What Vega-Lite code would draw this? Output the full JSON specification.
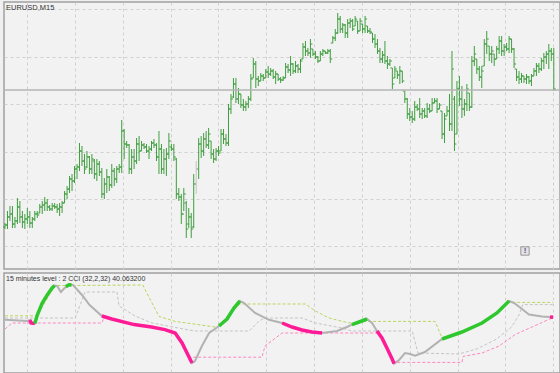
{
  "$schema": "https://vega.github.io/schema/vega-lite/v6.json",
  "padding": {"left": 2, "top": 1, "right": 2, "bottom": 2},
  "background": "#f0f0f0",
  "spacing": 2,
  "config": {
    "view": {"stroke": "#a0a0a0", "strokeWidth": 1.5, "fill": "#f2f2f2"},
    "axis": {"domain": false, "ticks": false, "labels": false, "gridColor": "#d0d0d0", "gridDash": [3, 3], "gridWidth": 1}
  },
  "datasets": {
    "bars": [
      {"i":0,"o":42,"h":46,"l":40,"c":44},{"i":1,"o":44,"h":58,"l":40,"c":52},{"i":2,"o":52,"h":63,"l":48,"c":55},{"i":3,"o":55,"h":63,"l":41,"c":45},{"i":4,"o":45,"h":52,"l":41,"c":48},
      {"i":5,"o":48,"h":71,"l":45,"c":62},{"i":6,"o":62,"h":68,"l":46,"c":52},{"i":7,"o":52,"h":58,"l":41,"c":47},{"i":8,"o":47,"h":55,"l":40,"c":50},{"i":9,"o":50,"h":61,"l":45,"c":52},
      {"i":10,"o":52,"h":58,"l":41,"c":46},{"i":11,"o":46,"h":52,"l":41,"c":50},{"i":12,"o":50,"h":58,"l":48,"c":55},{"i":13,"o":55,"h":58,"l":51,"c":54},{"i":14,"o":56,"h":65,"l":56,"c":62},
      {"i":15,"o":62,"h":68,"l":55,"c":64},{"i":16,"o":64,"h":72,"l":58,"c":66},{"i":17,"o":66,"h":70,"l":58,"c":62},{"i":18,"o":62,"h":64,"l":58,"c":60},{"i":19,"o":60,"h":66,"l":58,"c":63},
      {"i":20,"o":63,"h":66,"l":60,"c":62},{"i":21,"o":62,"h":65,"l":56,"c":60},{"i":22,"o":60,"h":66,"l":53,"c":62},{"i":23,"o":62,"h":68,"l":56,"c":66},{"i":24,"o":66,"h":78,"l":66,"c":75},
      {"i":25,"o":75,"h":83,"l":70,"c":80},{"i":26,"o":80,"h":93,"l":76,"c":90},{"i":27,"o":90,"h":95,"l":78,"c":88},{"i":28,"o":88,"h":103,"l":86,"c":100},{"i":29,"o":100,"h":105,"l":90,"c":102},
      {"i":30,"o":102,"h":126,"l":98,"c":118},{"i":31,"o":118,"h":123,"l":103,"c":108},{"i":32,"o":108,"h":115,"l":95,"c":100},{"i":33,"o":102,"h":118,"l":101,"c":112},{"i":34,"o":112,"h":113,"l":95,"c":100},
      {"i":35,"o":100,"h":115,"l":95,"c":110},{"i":36,"o":108,"h":110,"l":90,"c":95},{"i":37,"o":95,"h":110,"l":88,"c":105},{"i":38,"o":105,"h":108,"l":93,"c":97},{"i":39,"o":97,"h":101,"l":71,"c":75},
      {"i":40,"o":75,"h":91,"l":70,"c":85},{"i":41,"o":85,"h":100,"l":76,"c":92},{"i":42,"o":92,"h":93,"l":78,"c":84},{"i":43,"o":84,"h":105,"l":81,"c":98},{"i":44,"o":98,"h":101,"l":83,"c":90},
      {"i":45,"o":90,"h":103,"l":86,"c":100},{"i":46,"o":100,"h":105,"l":96,"c":102},{"i":47,"o":102,"h":149,"l":96,"c":138},{"i":48,"o":138,"h":140,"l":110,"c":125},{"i":49,"o":125,"h":128,"l":121,"c":124},
      {"i":50,"o":124,"h":125,"l":95,"c":100},{"i":51,"o":100,"h":120,"l":95,"c":112},{"i":52,"o":112,"h":120,"l":100,"c":108},{"i":53,"o":108,"h":131,"l":105,"c":125},{"i":54,"o":125,"h":133,"l":108,"c":118},
      {"i":55,"o":118,"h":128,"l":118,"c":124},{"i":56,"o":124,"h":126,"l":120,"c":122},{"i":57,"o":122,"h":125,"l":116,"c":118},{"i":58,"o":118,"h":123,"l":110,"c":120},{"i":59,"o":120,"h":128,"l":118,"c":126},
      {"i":60,"o":126,"h":130,"l":121,"c":124},{"i":61,"o":124,"h":126,"l":108,"c":112},{"i":62,"o":112,"h":138,"l":95,"c":120},{"i":63,"o":120,"h":125,"l":95,"c":100},{"i":64,"o":100,"h":120,"l":95,"c":110},
      {"i":65,"o":110,"h":121,"l":93,"c":115},{"i":66,"o":115,"h":136,"l":110,"c":128},{"i":67,"o":122,"h":125,"l":118,"c":120},{"i":68,"o":120,"h":125,"l":108,"c":112},{"i":69,"o":110,"h":111,"l":70,"c":75},
      {"i":70,"o":75,"h":81,"l":68,"c":72},{"i":71,"o":72,"h":75,"l":45,"c":55},{"i":72,"o":55,"h":81,"l":58,"c":75},{"i":73,"o":66,"h":68,"l":31,"c":40},{"i":74,"o":45,"h":61,"l":41,"c":52},
      {"i":75,"o":52,"h":56,"l":31,"c":40},{"i":76,"o":42,"h":95,"l":41,"c":85},{"i":77,"o":85,"h":108,"l":75,"c":100},{"i":78,"o":100,"h":131,"l":90,"c":125},{"i":79,"o":125,"h":133,"l":111,"c":118},
      {"i":80,"o":118,"h":136,"l":113,"c":130},{"i":81,"o":130,"h":138,"l":121,"c":124},{"i":82,"o":124,"h":141,"l":120,"c":135},{"i":83,"o":128,"h":128,"l":110,"c":115},{"i":84,"o":115,"h":120,"l":106,"c":110},
      {"i":85,"o":110,"h":121,"l":108,"c":118},{"i":86,"o":118,"h":123,"l":113,"c":116},{"i":87,"o":118,"h":140,"l":118,"c":135},{"i":88,"o":135,"h":140,"l":125,"c":130},{"i":89,"o":130,"h":135,"l":123,"c":126},
      {"i":90,"o":126,"h":165,"l":123,"c":160},{"i":91,"o":160,"h":175,"l":155,"c":170},{"i":92,"o":172,"h":191,"l":171,"c":185},{"i":93,"o":185,"h":191,"l":166,"c":170},{"i":94,"o":170,"h":181,"l":165,"c":175},
      {"i":95,"o":175,"h":175,"l":161,"c":164},{"i":96,"o":164,"h":170,"l":158,"c":162},{"i":97,"o":162,"h":168,"l":158,"c":165},{"i":98,"o":165,"h":173,"l":161,"c":170},{"i":99,"o":170,"h":195,"l":168,"c":190},
      {"i":100,"o":191,"h":211,"l":191,"c":205},{"i":101,"o":205,"h":208,"l":181,"c":190},{"i":102,"o":190,"h":193,"l":183,"c":188},{"i":103,"o":188,"h":196,"l":188,"c":193},{"i":104,"o":193,"h":195,"l":188,"c":191},
      {"i":105,"o":191,"h":200,"l":191,"c":197},{"i":106,"o":197,"h":203,"l":191,"c":195},{"i":107,"o":195,"h":201,"l":193,"c":198},{"i":108,"o":198,"h":200,"l":190,"c":192},{"i":109,"o":192,"h":198,"l":185,"c":195},
      {"i":110,"o":195,"h":195,"l":188,"c":190},{"i":111,"o":190,"h":192,"l":186,"c":189},{"i":112,"o":189,"h":193,"l":188,"c":191},{"i":113,"o":191,"h":206,"l":191,"c":202},{"i":114,"o":202,"h":205,"l":196,"c":199},
      {"i":115,"o":199,"h":213,"l":193,"c":205},{"i":116,"o":205,"h":206,"l":195,"c":198},{"i":117,"o":198,"h":208,"l":196,"c":203},{"i":118,"o":203,"h":205,"l":196,"c":200},{"i":119,"o":200,"h":210,"l":196,"c":208},
      {"i":120,"o":210,"h":226,"l":210,"c":222},{"i":121,"o":222,"h":228,"l":213,"c":218},{"i":122,"o":218,"h":221,"l":213,"c":216},{"i":123,"o":216,"h":230,"l":211,"c":225},{"i":124,"o":220,"h":220,"l":213,"c":215},
      {"i":125,"o":215,"h":218,"l":210,"c":212},{"i":126,"o":212,"h":213,"l":206,"c":208},{"i":127,"o":208,"h":218,"l":208,"c":215},{"i":128,"o":215,"h":220,"l":213,"c":218},{"i":129,"o":218,"h":218,"l":215,"c":216},
      {"i":130,"o":216,"h":220,"l":215,"c":218},{"i":131,"o":218,"h":220,"l":206,"c":210},{"i":132,"o":226,"h":233,"l":226,"c":231},{"i":133,"o":231,"h":240,"l":228,"c":236},{"i":134,"o":236,"h":256,"l":235,"c":250},
      {"i":135,"o":250,"h":253,"l":236,"c":240},{"i":136,"o":240,"h":246,"l":236,"c":244},{"i":137,"o":244,"h":245,"l":231,"c":236},{"i":138,"o":236,"h":250,"l":231,"c":246},{"i":139,"o":246,"h":251,"l":241,"c":248},
      {"i":140,"o":248,"h":250,"l":238,"c":240},{"i":141,"o":243,"h":253,"l":243,"c":250},{"i":142,"o":248,"h":248,"l":235,"c":238},{"i":143,"o":238,"h":251,"l":238,"c":248},{"i":144,"o":245,"h":245,"l":236,"c":240},
      {"i":145,"o":240,"h":253,"l":236,"c":250},{"i":146,"o":243,"h":243,"l":236,"c":238},{"i":147,"o":238,"h":241,"l":235,"c":237},{"i":148,"o":236,"h":236,"l":226,"c":230},{"i":149,"o":230,"h":235,"l":221,"c":225},
      {"i":150,"o":225,"h":230,"l":215,"c":218},{"i":151,"o":218,"h":221,"l":206,"c":210},{"i":152,"o":210,"h":218,"l":206,"c":214},{"i":153,"o":214,"h":228,"l":205,"c":208},{"i":154,"o":208,"h":213,"l":200,"c":205},
      {"i":155,"o":205,"h":210,"l":203,"c":208},{"i":156,"o":201,"h":201,"l":180,"c":185},{"i":157,"o":191,"h":203,"l":191,"c":200},{"i":158,"o":198,"h":198,"l":190,"c":194},{"i":159,"o":194,"h":203,"l":185,"c":198},
      {"i":160,"o":198,"h":198,"l":186,"c":188},{"i":161,"o":178,"h":178,"l":166,"c":170},{"i":162,"o":170,"h":171,"l":150,"c":155},{"i":163,"o":155,"h":161,"l":148,"c":152},{"i":164,"o":152,"h":158,"l":146,"c":150},
      {"i":165,"o":150,"h":168,"l":148,"c":162},{"i":166,"o":162,"h":165,"l":158,"c":160},{"i":167,"o":160,"h":171,"l":151,"c":155},{"i":168,"o":155,"h":161,"l":150,"c":158},{"i":169,"o":158,"h":161,"l":151,"c":153},
      {"i":170,"o":153,"h":166,"l":151,"c":160},{"i":171,"o":160,"h":165,"l":156,"c":158},{"i":172,"o":158,"h":171,"l":158,"c":166},{"i":173,"o":166,"h":171,"l":166,"c":168},{"i":174,"o":168,"h":171,"l":156,"c":160},
      {"i":175,"o":160,"h":166,"l":160,"c":164},{"i":176,"o":158,"h":158,"l":130,"c":135},{"i":177,"o":135,"h":156,"l":126,"c":150},{"i":178,"o":153,"h":163,"l":153,"c":158},{"i":179,"o":158,"h":175,"l":138,"c":145},
      {"i":180,"o":145,"h":218,"l":138,"c":200},{"i":181,"o":170,"h":173,"l":118,"c":125},{"i":182,"o":135,"h":188,"l":135,"c":180},{"i":183,"o":180,"h":193,"l":163,"c":170},{"i":184,"o":170,"h":183,"l":151,"c":160},
      {"i":185,"o":160,"h":170,"l":153,"c":165},{"i":186,"o":165,"h":185,"l":158,"c":180},{"i":187,"o":176,"h":176,"l":158,"c":162},{"i":188,"o":162,"h":213,"l":161,"c":208},{"i":189,"o":208,"h":223,"l":203,"c":215},
      {"i":190,"o":210,"h":210,"l":195,"c":200},{"i":191,"o":200,"h":203,"l":188,"c":192},{"i":192,"o":192,"h":203,"l":181,"c":198},{"i":193,"o":203,"h":230,"l":203,"c":225},{"i":194,"o":225,"h":238,"l":215,"c":230},
      {"i":195,"o":223,"h":223,"l":208,"c":215},{"i":196,"o":215,"h":223,"l":206,"c":218},{"i":197,"o":215,"h":215,"l":203,"c":210},{"i":198,"o":210,"h":223,"l":210,"c":220},{"i":199,"o":220,"h":233,"l":215,"c":228},
      {"i":200,"o":228,"h":233,"l":213,"c":218},{"i":201,"o":218,"h":225,"l":213,"c":222},{"i":202,"o":222,"h":226,"l":218,"c":220},{"i":203,"o":220,"h":233,"l":216,"c":230},{"i":204,"o":230,"h":230,"l":216,"c":220},
      {"i":205,"o":220,"h":221,"l":201,"c":205},{"i":206,"o":200,"h":200,"l":188,"c":192},{"i":207,"o":192,"h":198,"l":185,"c":190},{"i":208,"o":190,"h":196,"l":186,"c":193},{"i":209,"o":193,"h":193,"l":186,"c":190},
      {"i":210,"o":190,"h":195,"l":185,"c":192},{"i":211,"o":192,"h":193,"l":185,"c":188},{"i":212,"o":188,"h":195,"l":183,"c":193},{"i":213,"o":193,"h":201,"l":193,"c":198},{"i":214,"o":198,"h":206,"l":193,"c":203},
      {"i":215,"o":203,"h":206,"l":196,"c":200},{"i":216,"o":200,"h":211,"l":198,"c":208},{"i":217,"o":208,"h":216,"l":200,"c":212},{"i":218,"o":212,"h":218,"l":205,"c":215},{"i":219,"o":215,"h":225,"l":200,"c":218},
      {"i":220,"o":218,"h":221,"l":208,"c":215},{"i":221,"o":215,"h":221,"l":178,"c":180}
    ],
    "cci": [
      {"i":0,"v":16},{"i":9,"v":10},{"i":10,"v":15},{"i":10.5,"v":0},{"i":12,"v":-3},{"i":13,"v":40},{"i":15,"v":100},{"i":17,"v":140},{"i":19,"v":175},{"i":20,"v":187},
      {"i":21,"v":185},{"i":22.5,"v":155},{"i":24,"v":175},{"i":25.8,"v":191},{"i":27.4,"v":190},{"i":31,"v":140},{"i":34,"v":91},{"i":39,"v":35},{"i":43,"v":20},{"i":52,"v":-8},
      {"i":59,"v":-20},{"i":64.4,"v":-33},{"i":68.5,"v":-50},{"i":71.3,"v":-100},{"i":73.7,"v":-160},{"i":75.3,"v":-200},{"i":76.5,"v":-190},{"i":79.3,"v":-115},{"i":82.2,"v":-50},{"i":86.2,"v":-15},
      {"i":89.4,"v":20},{"i":92.2,"v":75},{"i":94.6,"v":110},{"i":96.3,"v":100},{"i":100.7,"v":50},{"i":106.3,"v":16},{"i":111.6,"v":0},{"i":115.6,"v":-20},{"i":119.6,"v":-35},{"i":123.6,"v":-45},
      {"i":127.7,"v":-50},{"i":133.7,"v":-40},{"i":137.7,"v":-20},{"i":139.7,"v":-8},{"i":142.6,"v":5},{"i":145.8,"v":20},{"i":147.8,"v":0},{"i":149.8,"v":-40},{"i":151.8,"v":-75},{"i":153.8,"v":-125},
      {"i":155.9,"v":-180},{"i":156.7,"v":-203},{"i":158.7,"v":-185},{"i":161.1,"v":-150},{"i":163.1,"v":-155},{"i":165.1,"v":-163},{"i":169.1,"v":-145},{"i":176,"v":-80},{"i":184,"v":-45},{"i":192.1,"v":0},
      {"i":198.1,"v":50},{"i":203,"v":110},{"i":205,"v":100},{"i":208.2,"v":70},{"i":211,"v":42},{"i":216.3,"v":32},{"i":219.5,"v":30},{"i":220.7,"v":29}
    ],
    "bands": [
      {"seg":"m0","dir":"down","i":10,"v":15},{"seg":"m0","dir":"down","i":10.5,"v":0},{"seg":"m0","dir":"down","i":12,"v":-3},
      {"seg":"g1","dir":"up","i":12,"v":-3},{"seg":"g1","dir":"up","i":13,"v":40},{"seg":"g1","dir":"up","i":15,"v":100},{"seg":"g1","dir":"up","i":17,"v":140},{"seg":"g1","dir":"up","i":19,"v":175},{"seg":"g1","dir":"up","i":20,"v":187},
      {"seg":"g2","dir":"up","i":24.5,"v":182},{"seg":"g2","dir":"up","i":25.8,"v":191},{"seg":"g2","dir":"up","i":26.8,"v":190},
      {"seg":"m1","dir":"down","i":39,"v":35},{"seg":"m1","dir":"down","i":43,"v":20},{"seg":"m1","dir":"down","i":52,"v":-8},{"seg":"m1","dir":"down","i":59,"v":-20},{"seg":"m1","dir":"down","i":64.4,"v":-33},{"seg":"m1","dir":"down","i":68.5,"v":-50},{"seg":"m1","dir":"down","i":71.3,"v":-100},{"seg":"m1","dir":"down","i":73.7,"v":-160},{"seg":"m1","dir":"down","i":75.3,"v":-200},
      {"seg":"g3","dir":"up","i":86.2,"v":-15},{"seg":"g3","dir":"up","i":89.4,"v":20},{"seg":"g3","dir":"up","i":92.2,"v":75},{"seg":"g3","dir":"up","i":94.6,"v":110},
      {"seg":"m2","dir":"down","i":111.6,"v":0},{"seg":"m2","dir":"down","i":115.6,"v":-20},{"seg":"m2","dir":"down","i":119.6,"v":-35},{"seg":"m2","dir":"down","i":123.6,"v":-45},{"seg":"m2","dir":"down","i":127.7,"v":-50},
      {"seg":"g4","dir":"up","i":139.7,"v":-8},{"seg":"g4","dir":"up","i":142.6,"v":5},{"seg":"g4","dir":"up","i":145.8,"v":20},
      {"seg":"m3","dir":"down","i":149.8,"v":-40},{"seg":"m3","dir":"down","i":151.8,"v":-75},{"seg":"m3","dir":"down","i":153.8,"v":-125},{"seg":"m3","dir":"down","i":155.9,"v":-180},{"seg":"m3","dir":"down","i":156.7,"v":-203},
      {"seg":"g5","dir":"up","i":176,"v":-80},{"seg":"g5","dir":"up","i":184,"v":-45},{"seg":"g5","dir":"up","i":192.1,"v":0},{"seg":"g5","dir":"up","i":198.1,"v":50},{"seg":"g5","dir":"up","i":203,"v":110},
      {"seg":"m4","dir":"down","i":219.5,"v":30},{"seg":"m4","dir":"down","i":220.7,"v":29}
    ],
    "levels": [
      {"s":"upper","i":0,"v":36},{"s":"upper","i":13,"v":36},{"s":"upper","i":20,"v":187},{"s":"upper","i":55.5,"v":190},{"s":"upper","i":56.4,"v":167},{"s":"upper","i":62,"v":33},{"s":"upper","i":68.5,"v":8},{"s":"upper","i":84.6,"v":-20},{"s":"upper","i":86.2,"v":-15},{"s":"upper","i":94.6,"v":95},{"s":"upper","i":121,"v":95},{"s":"upper","i":125,"v":60},{"s":"upper","i":130.5,"v":25},{"s":"upper","i":138.5,"v":0},{"s":"upper","i":145.8,"v":8},{"s":"upper","i":173.2,"v":8},{"s":"upper","i":176,"v":-75},{"s":"upper","i":184,"v":-45},{"s":"upper","i":192.1,"v":0},{"s":"upper","i":198.1,"v":50},{"s":"upper","i":203,"v":103},{"s":"upper","i":220.7,"v":103},
      {"s":"mid","i":0,"v":25},{"s":"mid","i":28.3,"v":25},{"s":"mid","i":32.2,"v":155},{"s":"mid","i":45.1,"v":155},{"s":"mid","i":45.9,"v":85},{"s":"mid","i":52.4,"v":35},{"s":"mid","i":59.2,"v":0},{"s":"mid","i":74,"v":-35},{"s":"mid","i":76.5,"v":-40},{"s":"mid","i":98.3,"v":-40},{"s":"mid","i":102.3,"v":10},{"s":"mid","i":104.7,"v":25},{"s":"mid","i":119.6,"v":25},{"s":"mid","i":125,"v":0},{"s":"mid","i":135.7,"v":-25},{"s":"mid","i":139.7,"v":-40},{"s":"mid","i":164,"v":-40},{"s":"mid","i":166.3,"v":-150},{"s":"mid","i":182.8,"v":-155},{"s":"mid","i":190,"v":-130},{"s":"mid","i":198,"v":-80},{"s":"mid","i":204,"v":-20},{"s":"mid","i":207,"v":40},{"s":"mid","i":208.5,"v":92},{"s":"mid","i":220.7,"v":92},
      {"s":"lower","i":0,"v":-30},{"s":"lower","i":2.8,"v":0},{"s":"lower","i":39,"v":0},{"s":"lower","i":40,"v":30},{"s":"lower","i":52,"v":-8},{"s":"lower","i":59,"v":-20},{"s":"lower","i":64.4,"v":-33},{"s":"lower","i":68.5,"v":-50},{"s":"lower","i":71.3,"v":-100},{"s":"lower","i":73.7,"v":-160},{"s":"lower","i":74.5,"v":-171},{"s":"lower","i":103.5,"v":-171},{"s":"lower","i":104.7,"v":-115},{"s":"lower","i":111.6,"v":-50},{"s":"lower","i":150.6,"v":-50},{"s":"lower","i":153.8,"v":-125},{"s":"lower","i":155.9,"v":-180},{"s":"lower","i":156.7,"v":-197},{"s":"lower","i":184,"v":-197},{"s":"lower","i":184.5,"v":-167},{"s":"lower","i":192.1,"v":-150},{"s":"lower","i":199,"v":-115},{"s":"lower","i":205.4,"v":-58},{"s":"lower","i":220.3,"v":25}
    ]
  },
  "vconcat": [
    {
      "width": 556,
      "height": 267,
      "layer": [
        {
          "data": {"name": "bars"},
          "mark": {"type": "rule", "strokeWidth": 1},
          "encoding": {
            "x": {"field": "i", "type": "quantitative", "title": null, "scale": {"domain": [-0.4, 223.5], "nice": false, "zero": false},
                  "axis": {"grid": true, "values": [8.86,18.49,28.13,37.76,47.4,57.03,66.67,76.3,85.93,95.57,105.2,114.84,124.47,134.11,143.74,153.37,163.01,172.64,182.28,191.91,201.54,211.18,220.81]}},
            "y": {"field": "l", "type": "quantitative", "title": null, "scale": {"domain": [0, 267], "nice": false, "zero": false},
                  "axis": {"grid": true, "values": [260,236,212,188,165,141,117,93,70,46,23]}},
            "y2": {"field": "h"},
            "color": {"condition": {"test": "datum.i === 77", "value": "#c4c4c4"}, "value": "#3f9e3f"}
          }
        },
        {
          "data": {"name": "bars"},
          "mark": {"type": "tick", "orient": "horizontal", "size": 2, "thickness": 1, "xOffset": -1, "opacity": 1},
          "encoding": {
            "x": {"field": "i", "type": "quantitative"},
            "y": {"field": "o", "type": "quantitative"},
            "color": {"condition": {"test": "datum.i === 77", "value": "#c4c4c4"}, "value": "#3f9e3f"}
          }
        },
        {
          "data": {"name": "bars"},
          "mark": {"type": "tick", "orient": "horizontal", "size": 2, "thickness": 1, "xOffset": 1, "opacity": 1},
          "encoding": {
            "x": {"field": "i", "type": "quantitative"},
            "y": {"field": "c", "type": "quantitative"},
            "color": {"condition": {"test": "datum.i === 77", "value": "#c4c4c4"}, "value": "#3f9e3f"}
          }
        },
        {
          "data": {"values": [{"level": 179}]},
          "mark": {"type": "rule", "color": "#b4b4b4", "strokeWidth": 1.5},
          "encoding": {"y": {"field": "level", "type": "quantitative"}}
        },
        {
          "data": {"values": [{"i": 209.4, "v": 18, "t": "!"}]},
          "mark": {"type": "square", "size": 70, "fill": "#e2e2e2", "stroke": "#9a9a9a", "strokeWidth": 1, "opacity": 1},
          "encoding": {"x": {"field": "i", "type": "quantitative"}, "y": {"field": "v", "type": "quantitative"}}
        },
        {
          "data": {"values": [{"i": 209.4, "v": 18, "t": "!"}]},
          "mark": {"type": "text", "fontSize": 8, "fontWeight": "bold", "color": "#6a4c9c", "baseline": "middle"},
          "encoding": {"x": {"field": "i", "type": "quantitative"}, "y": {"field": "v", "type": "quantitative"}, "text": {"field": "t"}}
        },
        {
          "data": {"values": [{"i": 0.4, "v": 259, "t": "EURUSD,M15"}]},
          "mark": {"type": "text", "fontSize": 7.5, "font": "Liberation Sans", "color": "#333333", "align": "left", "baseline": "alphabetic"},
          "encoding": {"x": {"field": "i", "type": "quantitative"}, "y": {"field": "v", "type": "quantitative"}, "text": {"field": "t"}}
        }
      ]
    },
    {
      "width": 556,
      "height": 100,
      "layer": [
        {
          "data": {"name": "levels"},
          "mark": {"type": "line", "strokeWidth": 1, "strokeDash": [3, 2], "clip": true},
          "encoding": {
            "x": {"field": "i", "type": "quantitative", "title": null, "scale": {"domain": [-0.4, 223.5], "nice": false, "zero": false},
                  "axis": {"grid": true, "values": [8.86,18.49,28.13,37.76,47.4,57.03,66.67,76.3,85.93,95.57,105.2,114.84,124.47,134.11,143.74,153.37,163.01,172.64,182.28,191.91,201.54,211.18,220.81]}},
            "y": {"field": "v", "type": "quantitative", "title": null, "scale": {"domain": [-250, 250], "nice": false, "zero": false}, "axis": null},
            "color": {"field": "s", "type": "nominal", "legend": null, "scale": {"domain": ["upper", "mid", "lower"], "range": ["#b9d65a", "#c4c4c4", "#ff86bf"]}}
          }
        },
        {
          "data": {"name": "cci"},
          "mark": {"type": "line", "color": "#b2b2b2", "strokeWidth": 2, "clip": true},
          "encoding": {
            "x": {"field": "i", "type": "quantitative"},
            "y": {"field": "v", "type": "quantitative"}
          }
        },
        {
          "data": {"name": "bands"},
          "mark": {"type": "line", "strokeWidth": 3.5, "strokeCap": "butt", "clip": true},
          "encoding": {
            "x": {"field": "i", "type": "quantitative"},
            "y": {"field": "v", "type": "quantitative"},
            "detail": {"field": "seg"},
            "color": {"field": "dir", "type": "nominal", "legend": null, "scale": {"domain": ["up", "down"], "range": ["#2ec82e", "#ff1a96"]}}
          }
        },
        {
          "data": {"values": [{"i": 0.4, "v": 208, "t": "15 minutes level : 2 CCI (32,2,32) 40.063200"}]},
          "mark": {"type": "text", "fontSize": 7, "font": "Liberation Sans", "color": "#333333", "align": "left", "baseline": "alphabetic"},
          "encoding": {"x": {"field": "i", "type": "quantitative"}, "y": {"field": "v", "type": "quantitative"}, "text": {"field": "t"}}
        }
      ],
      "resolve": {"scale": {"color": "independent"}}
    }
  ]
}
